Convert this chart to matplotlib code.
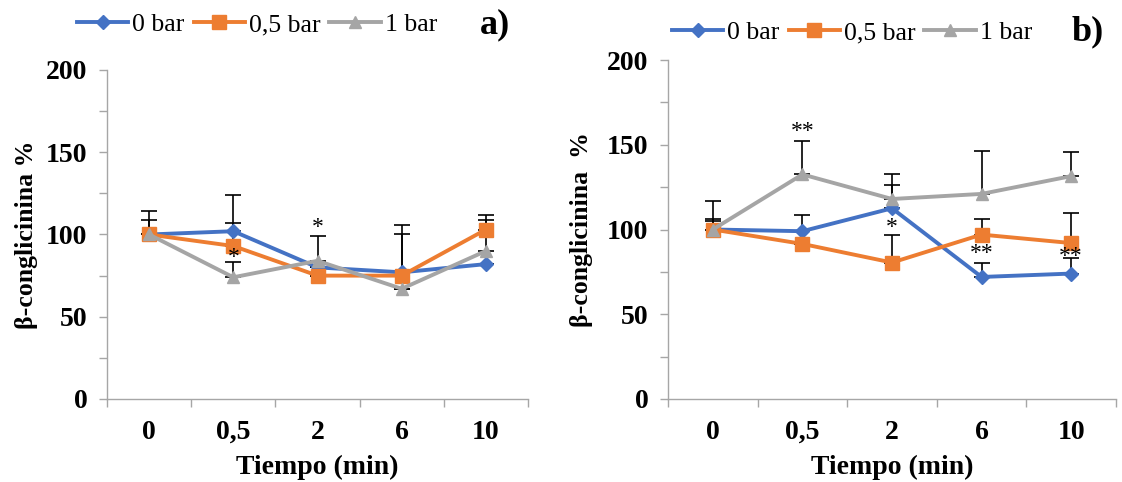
import numpy as np
import matplotlib
matplotlib.use('Agg')
import matplotlib.pyplot as plt
from matplotlib.ticker import MultipleLocator, FuncFormatter, FixedLocator

plt.rcParams['font.family'] = ['Liberation Serif', 'DejaVu Serif']

# Datos
tiempos = ['0', '0,5', '2', '6', '10']
series = ['0 bar', '0,5 bar', '1 bar']
colores = ['#4472C4', '#ED7D31', '#A5A5A5']
marcadores = ['D', 's', '^']
tamanos = [7, 9.5, 9]

# panel a)
a_0bar = [100, 102, 80, 77, 82]
a_05bar = [100, 93, 75, 75, 103]
a_1bar = [100, 74, 84, 67, 90]
a_err_0bar = [14, 22, 0, 23, 0]
a_err_05bar = [9, 14, 0, 31, 9]
a_err_1bar = [0, 9, 15, 0, 19]
a_sig = [(1, 86, '*'), (2, 104, '*')]

# panel b)
b_0bar = [100, 99, 112.5, 72, 74]
b_05bar = [100, 91.5, 80.5, 97, 92]
b_1bar = [100, 132.5, 118, 121, 131.5]
b_err_0bar = [6, 9.5, 14, 8.5, 9]
b_err_05bar = [5, 0, 16, 9, 18]
b_err_1bar = [17, 20, 14.5, 25.5, 14]
b_sig = [(1, 158, '**'), (2, 101, '*'), (3, 86, '**'), (4, 84, '**')]

fig = plt.figure(figsize=(11.22, 4.82), dpi=100)
ax1 = fig.add_axes([107/1122, 83/482, 421/1122, 329/482])
ax2 = fig.add_axes([668/1122, 83/482, 448/1122, 339/482])

grey = '#a6a6a6'
fs = 20


def panel(ax, vals, errs, sig, ylabel, lpad):
    x = np.arange(len(tiempos))
    handles = []
    for v, e in zip(vals, errs):
        ax.errorbar(x, v, yerr=[np.zeros(len(e)), e], fmt='none', ecolor='black',
                    elinewidth=1.2, capsize=6, capthick=1.2, zorder=1)
    for v, c, m, ms, name in zip(vals, colores, marcadores, tamanos, series):
        h, = ax.plot(x, v, color=c, marker=m, markersize=ms, linewidth=2.8,
                     label=name, zorder=2)
        handles.append(h)
    for xi, yi, s in sig:
        ax.text(xi, yi, s, ha='center', va='center', fontsize=17, zorder=3)
    ax.set_ylim(0, 200)
    ax.set_xlim(-0.5, len(tiempos) - 0.5)
    ax.yaxis.set_major_locator(MultipleLocator(25))
    ax.yaxis.set_major_formatter(FuncFormatter(lambda v, p: f'{int(v)}' if v % 50 == 0 else ''))
    ax.set_xticks(x)
    ax.set_xticklabels(tiempos)
    ax.xaxis.set_minor_locator(FixedLocator(np.arange(-0.5, len(tiempos), 1.0)))
    ax.tick_params(axis='x', which='major', length=0, pad=15)
    ax.tick_params(axis='x', which='minor', length=6, color=grey, width=1)
    ax.tick_params(axis='y', length=6, color=grey, width=1, pad=8)
    for lab in ax.get_xticklabels() + ax.get_yticklabels():
        lab.set_fontsize(fs)
        lab.set_fontweight('bold')
    for s in ['top', 'right']:
        ax.spines[s].set_visible(False)
    for s in ['left', 'bottom']:
        ax.spines[s].set_color(grey)
        ax.spines[s].set_linewidth(1)
    ax.set_xlabel('Tiempo (min)', fontsize=fs, fontweight='bold', labelpad=7)
    ax.set_ylabel(ylabel, fontsize=18.5, fontweight='bold', labelpad=lpad)
    return handles


h1 = panel(ax1, [a_0bar, a_05bar, a_1bar], [a_err_0bar, a_err_05bar, a_err_1bar],
           a_sig, 'β-conglicinina %', 6)
h2 = panel(ax2, [b_0bar, b_05bar, b_1bar], [b_err_0bar, b_err_05bar, b_err_1bar],
           b_sig, 'β-conglicinina  %', 10)

leg_kw = dict(ncol=3, frameon=False, fontsize=18.5, handlelength=2.0,
              handletextpad=0.15, columnspacing=0.35, borderaxespad=0, borderpad=0)
fig.legend(handles=h1, loc='center left', bbox_to_anchor=(77/1122, 1 - 25/482), **leg_kw)
fig.legend(handles=h2, loc='center left', bbox_to_anchor=(672/1122, 1 - 33/482), **leg_kw)
fig.text(480/1122, 1 - 25/482, 'a)', fontsize=26, fontweight='bold', va='center')
fig.text(1072/1122, 1 - 32/482, 'b)', fontsize=26, fontweight='bold', va='center')

fig.savefig('out.png', dpi=100)
